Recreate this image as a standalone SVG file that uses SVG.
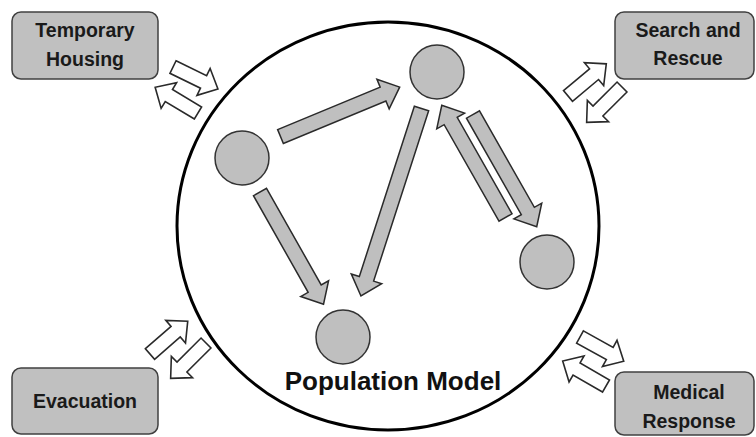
<svg xmlns="http://www.w3.org/2000/svg" xmlns:xlink="http://www.w3.org/1999/xlink" width="756" height="437" viewBox="0 0 756 437">
  <style>
    .box { fill: #c0c0c0; stroke: #404040; stroke-width: 1.5; }
    .btxt { font-family: "Liberation Sans", Arial, sans-serif; font-weight: bold; font-size: 19.5px; fill: #1a1a1a; text-anchor: middle; }
    .node { fill: #bfbfbf; stroke: #333333; stroke-width: 1.5; }
    .garrow { fill: #bfbfbf; stroke: #2a2a2a; stroke-width: 1.5; stroke-linejoin: miter; }
    .harrow { fill: #ffffff; stroke: #2a2a2a; stroke-width: 1.6; stroke-linejoin: miter; }
    .title { font-family: "Liberation Sans", Arial, sans-serif; font-weight: bold; font-size: 26px; fill: #111111; text-anchor: middle; }
  </style>
  <defs>
    <path id="hollow" d="M0,-7 H34 V-15 L50,0 L34,15 V7 H0 Z"/>
    <path id="g129" d="M0,-7.5 H111 V-16 L129,0 L111,16 V7.5 H0 Z"/>
    <path id="g197" d="M0,-7.5 H179 V-16 L197,0 L179,16 V7.5 H0 Z"/>
  </defs>
  <rect width="756" height="437" fill="#ffffff"/>

  <g id="population-model">
    <ellipse cx="388" cy="226" rx="211" ry="204" fill="none" stroke="#000000" stroke-width="3"/>
    <text class="title" x="393" y="390">Population Model</text>
  </g>

  <g id="temporary-housing">
    <rect class="box" x="12" y="12" width="146" height="67" rx="9"/>
    <text class="btxt" x="85" y="37">Temporary</text>
    <text class="btxt" x="85" y="66">Housing</text>
  </g>
  <g id="search-and-rescue">
    <rect class="box" x="615" y="12" width="139" height="67" rx="9"/>
    <text class="btxt" x="688" y="37">Search and</text>
    <text class="btxt" x="688" y="65">Rescue</text>
  </g>
  <g id="evacuation">
    <rect class="box" x="12" y="368" width="146" height="66" rx="9"/>
    <text class="btxt" x="85" y="408">Evacuation</text>
  </g>
  <g id="medical-response">
    <rect class="box" x="615" y="372" width="139" height="63" rx="9"/>
    <text class="btxt" x="689" y="399">Medical</text>
    <text class="btxt" x="689" y="428">Response</text>
  </g>

  <g id="node-left"><circle class="node" cx="242" cy="158" r="27"/></g>
  <g id="node-top"><circle class="node" cx="437" cy="72" r="27"/></g>
  <g id="node-right"><circle class="node" cx="547" cy="262" r="27"/></g>
  <g id="node-bottom"><circle class="node" cx="343" cy="337" r="27"/></g>

  <g id="connectors">
    <use href="#g129" xlink:href="#g129" class="garrow" transform="translate(280.5,136.5) rotate(-22.5)"/>
    <use href="#g129" xlink:href="#g129" class="garrow" transform="translate(260,192) rotate(60.5)"/>
    <use href="#g197" xlink:href="#g197" class="garrow" transform="translate(421.5,108.5) rotate(107.9)"/>
    <use href="#g129" xlink:href="#g129" class="garrow" transform="translate(505.5,217.5) rotate(-119.6)"/>
    <use href="#g129" xlink:href="#g129" class="garrow" transform="translate(473,114.5) rotate(60.4)"/>

    <use href="#hollow" xlink:href="#hollow" class="harrow" transform="translate(173,67) rotate(26)"/>
    <use href="#hollow" xlink:href="#hollow" class="harrow" transform="translate(198,113) rotate(211)"/>
    <use href="#hollow" xlink:href="#hollow" class="harrow" transform="translate(150,354) rotate(-41)"/>
    <use href="#hollow" xlink:href="#hollow" class="harrow" transform="translate(206,343) rotate(135)"/>
    <use href="#hollow" xlink:href="#hollow" class="harrow" transform="translate(568,96) rotate(-40)"/>
    <use href="#hollow" xlink:href="#hollow" class="harrow" transform="translate(622,87) rotate(135)"/>
    <use href="#hollow" xlink:href="#hollow" class="harrow" transform="translate(580,337) rotate(29)"/>
    <use href="#hollow" xlink:href="#hollow" class="harrow" transform="translate(606,386) rotate(210)"/>
  </g>
</svg>
